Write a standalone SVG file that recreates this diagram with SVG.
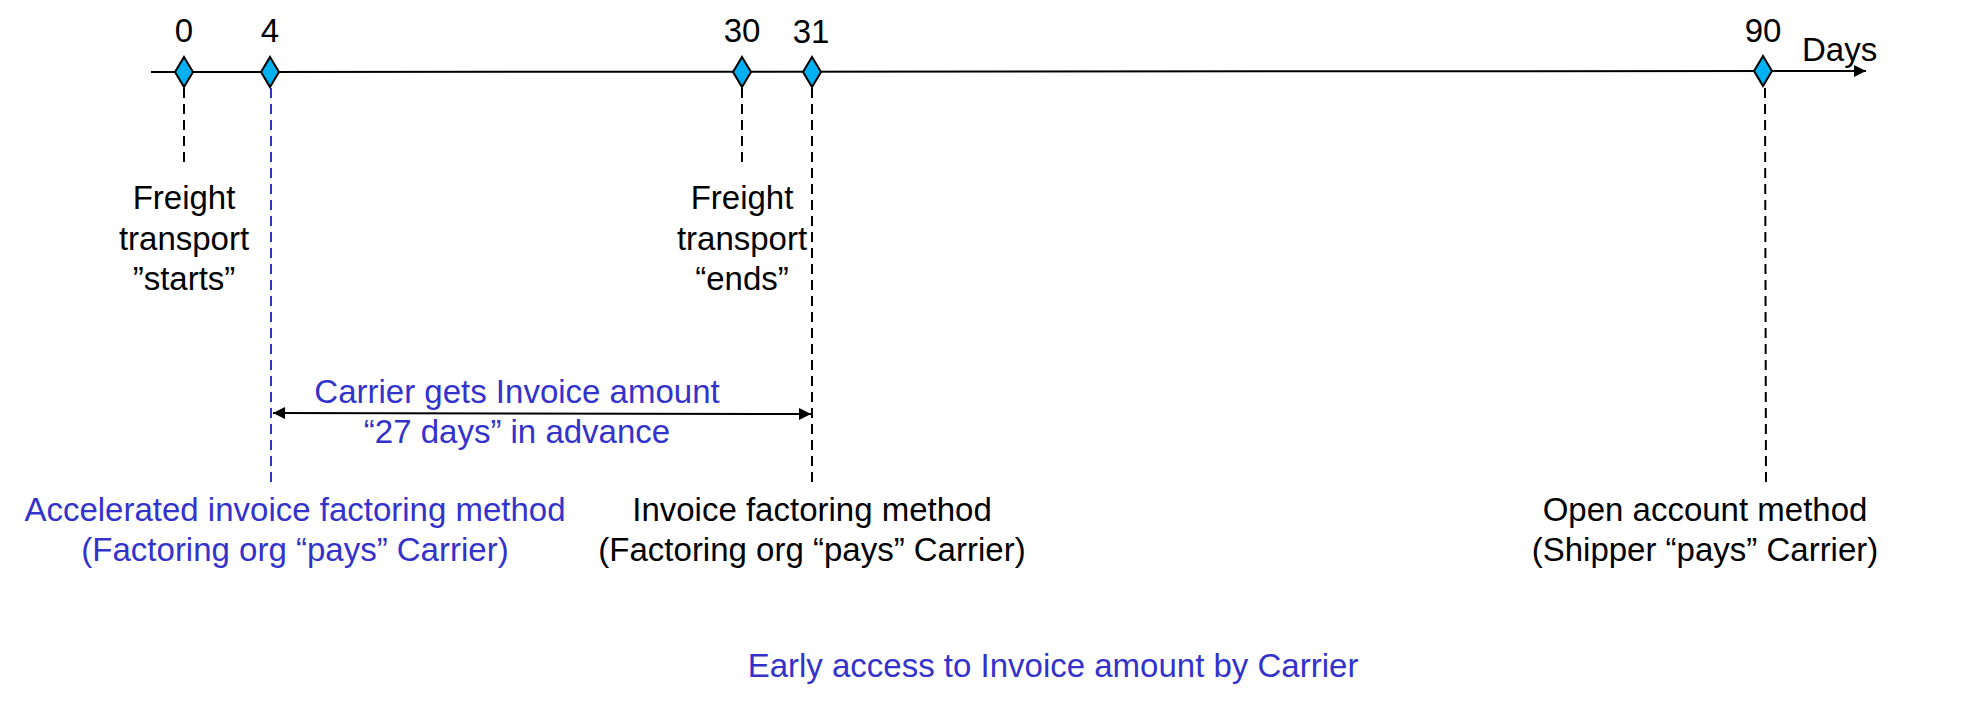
<svg xmlns="http://www.w3.org/2000/svg" width="1987" height="706" viewBox="0 0 1987 706">
<style>
text{font-family:"Liberation Sans",Arial,sans-serif;font-size:33px;fill:#000;text-anchor:middle}
.blue{fill:#3333CC}
.axis{stroke:#000;stroke-width:2;fill:none}
.dash{stroke:#000;stroke-width:2;stroke-dasharray:10,6;fill:none}
.dashb{stroke:#3333CC;stroke-width:2;stroke-dasharray:10,6;fill:none}
.dia{fill:#00B0F0;stroke:#000;stroke-width:2}
</style>
<defs>
<marker id="ah" viewBox="0 0 12 12" refX="12" refY="6" markerWidth="12" markerHeight="12" markerUnits="userSpaceOnUse" orient="auto-start-reverse">
<path d="M0,0 L12,6 L0,12 z" fill="#000"/>
</marker>
</defs>
<rect width="1987" height="706" fill="#fff"/>
<g id="connectors">
<line class="axis" x1="151" y1="72" x2="1866" y2="71" marker-end="url(#ah)"/>
<line class="dash" x1="184" y1="88" x2="184" y2="167"/>
<line class="dashb" x1="271" y1="88" x2="271" y2="482"/>
<line class="dash" x1="742" y1="88" x2="742" y2="166"/>
<line class="dash" x1="812" y1="88" x2="812" y2="482"/>
<line class="dash" x1="1765" y1="88" x2="1766" y2="482"/>
<line class="axis" x1="273" y1="413" x2="811" y2="414" marker-start="url(#ah)" marker-end="url(#ah)"/>
</g>
<g id="t0">
<path class="dia" d="M184,57 L193,72 L184,87 L175,72 z"/>
<text x="184" y="42">0</text>
<text x="184" y="209">Freight</text>
<text x="184" y="250">transport</text>
<text x="184" y="290">”starts”</text>
</g>
<g id="t4">
<path class="dia" d="M270,57 L279,72 L270,87 L261,72 z"/>
<text x="270" y="42">4</text>
</g>
<g id="t30">
<path class="dia" d="M742,57 L751,72 L742,87 L733,72 z"/>
<text x="742" y="42">30</text>
<text x="742" y="209">Freight</text>
<text x="742" y="250">transport</text>
<text x="742" y="290">“ends”</text>
</g>
<g id="t31">
<path class="dia" d="M812,57 L821,72 L812,87 L803,72 z"/>
<text x="811" y="43">31</text>
</g>
<g id="t90">
<path class="dia" d="M1763,56 L1772,71 L1763,86 L1754,71 z"/>
<text x="1763" y="42">90</text>
<text x="1802" y="61" style="text-anchor:start">Days</text>
</g>
<g id="advance">
<text class="blue" x="517" y="403">Carrier gets Invoice amount</text>
<text class="blue" x="517" y="443">“27 days” in advance</text>
</g>
<g id="accelerated">
<text class="blue" x="295" y="521">Accelerated invoice factoring method</text>
<text class="blue" x="295" y="561">(Factoring org “pays” Carrier)</text>
</g>
<g id="factoring">
<text x="812" y="521">Invoice factoring method</text>
<text x="812" y="561">(Factoring org “pays” Carrier)</text>
</g>
<g id="openaccount">
<text x="1705" y="521">Open account method</text>
<text x="1705" y="561">(Shipper “pays” Carrier)</text>
</g>
<g id="caption">
<text class="blue" x="1053" y="677">Early access to Invoice amount by Carrier</text>
</g>
</svg>
